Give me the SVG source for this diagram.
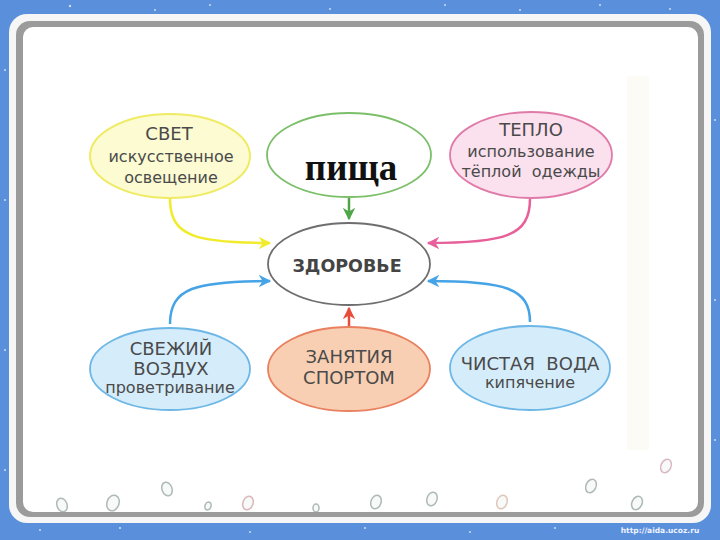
<svg xmlns="http://www.w3.org/2000/svg" width="720" height="540" viewBox="0 0 720 540">
<defs>
<style>
.t{font-family:"DejaVu Sans","Liberation Sans",sans-serif;fill:#4a4a4a;text-anchor:middle}
.big{font-size:18px}
.sm{font-size:16px}
.con{fill:none;stroke-width:2.5}
.drop{fill:#f6f9f8;stroke:#9aa9a6;stroke-width:1.5;opacity:0.8}
.spark{fill:#ffffff;opacity:0.7}
</style>
<marker id="aY" viewBox="0 0 10 10" refX="9" refY="5" markerWidth="5" markerHeight="5" orient="auto" markerUnits="strokeWidth"><path d="M0,0 L10,5 L0,10 L3,5 Z" fill="#f0ec2c"/></marker>
<marker id="aG" viewBox="0 0 10 10" refX="9" refY="5" markerWidth="5" markerHeight="5" orient="auto" markerUnits="strokeWidth"><path d="M0,0 L10,5 L0,10 L3,5 Z" fill="#4fa647"/></marker>
<marker id="aP" viewBox="0 0 10 10" refX="9" refY="5" markerWidth="5" markerHeight="5" orient="auto" markerUnits="strokeWidth"><path d="M0,0 L10,5 L0,10 L3,5 Z" fill="#e8609a"/></marker>
<marker id="aB" viewBox="0 0 10 10" refX="9" refY="5" markerWidth="5" markerHeight="5" orient="auto" markerUnits="strokeWidth"><path d="M0,0 L10,5 L0,10 L3,5 Z" fill="#45a3e6"/></marker>
<marker id="aR" viewBox="0 0 10 10" refX="9" refY="5" markerWidth="5" markerHeight="5" orient="auto" markerUnits="strokeWidth"><path d="M0,0 L10,5 L0,10 L3,5 Z" fill="#e84c3a"/></marker>
</defs>

<g id="frame">
<rect x="0" y="0" width="720" height="540" fill="#5a8fdc"/>
<g class="spark">
<circle cx="70" cy="6" r="1.2"/><circle cx="155" cy="10" r="1"/><circle cx="210" cy="5" r="1"/><circle cx="330" cy="9" r="1"/><circle cx="445" cy="5" r="1"/><circle cx="520" cy="10" r="1"/><circle cx="600" cy="5" r="1"/><circle cx="670" cy="9" r="1"/>
<circle cx="5" cy="70" r="1"/><circle cx="5" cy="200" r="1"/><circle cx="5" cy="350" r="1"/><circle cx="5" cy="470" r="1"/>
<circle cx="715" cy="120" r="1"/><circle cx="715" cy="300" r="1"/><circle cx="715" cy="440" r="1"/>
<circle cx="40" cy="530" r="1"/><circle cx="120" cy="528" r="1"/><circle cx="250" cy="532" r="1"/><circle cx="365" cy="528" r="1"/><circle cx="470" cy="532" r="1"/><circle cx="555" cy="528" r="1"/>
</g>
<rect x="9" y="14" width="702" height="509" rx="18" fill="#f6f6f6"/>
<rect x="16" y="21" width="688" height="496" rx="14" fill="#9b9b9b"/>
<rect x="23" y="27" width="675" height="485" rx="10" fill="#ffffff"/>
<rect x="627" y="76" width="22" height="374" fill="#fcfaf2" opacity="0.7"/>
<text x="660" y="533" font-family="DejaVu Sans, sans-serif" font-size="7.5" font-weight="bold" fill="#eef3ff" text-anchor="middle">http://aida.ucoz.ru</text>
</g>

<g id="drops">
<ellipse class="drop" cx="62" cy="505" rx="5" ry="7" transform="rotate(-20 62 505)"/>
<ellipse class="drop" cx="113" cy="503" rx="6" ry="8" transform="rotate(20 113 503)"/>
<ellipse class="drop" cx="167" cy="489" rx="5" ry="7" transform="rotate(-20 167 489)"/>
<ellipse class="drop" cx="208" cy="506" rx="3" ry="4" transform="rotate(20 208 506)"/>
<ellipse class="drop" cx="248" cy="503" rx="5" ry="7" transform="rotate(20 248 503)" style="stroke:#d2a6aa"/>
<ellipse class="drop" cx="316" cy="508" rx="3" ry="4"/>
<ellipse class="drop" cx="376" cy="502" rx="5" ry="7" transform="rotate(20 376 502)"/>
<ellipse class="drop" cx="432" cy="499" rx="5" ry="7" transform="rotate(20 432 499)"/>
<ellipse class="drop" cx="502" cy="502" rx="5" ry="7" transform="rotate(20 502 502)" style="stroke:#d9b9a6"/>
<ellipse class="drop" cx="591" cy="486" rx="5" ry="7" transform="rotate(25 591 486)"/>
<ellipse class="drop" cx="637" cy="503" rx="5" ry="7" transform="rotate(25 637 503)"/>
<ellipse class="drop" cx="666" cy="466" rx="5" ry="7" transform="rotate(25 666 466)" style="stroke:#d2a6b6"/>
</g>

<g id="connectors">
<path class="con" d="M170,199 C170,236 195,243 270,243" stroke="#f0ec2c" marker-end="url(#aY)"/>
<path class="con" d="M349,198 L349,219" stroke="#4fa647" marker-end="url(#aG)"/>
<path class="con" d="M530,199 C530,236 505,243 428,243" stroke="#e8609a" marker-end="url(#aP)"/>
<path class="con" d="M170,324 C170,288 195,281 270,281" stroke="#45a3e6" marker-end="url(#aB)"/>
<path class="con" d="M530,322 C530,288 505,281 428,281" stroke="#45a3e6" marker-end="url(#aB)"/>
<path class="con" d="M349,327 L349,308" stroke="#e84c3a" marker-end="url(#aR)"/>
</g>

<g id="svet">
<ellipse cx="170" cy="156" rx="80" ry="42" fill="#fcfbd2" stroke="#efeb64" stroke-width="2"/>
<text class="t big" x="169" y="140">СВЕТ</text>
<text class="t sm" x="171" y="162">искусственное</text>
<text class="t sm" x="171" y="183">освещение</text>
</g>

<g id="pishcha">
<ellipse cx="349" cy="155" rx="82" ry="42" fill="#ffffff" stroke="#7cbf6a" stroke-width="1.8"/>
<text x="351" y="180" font-family="Liberation Serif, serif" font-weight="bold" font-size="37" fill="#111" text-anchor="middle">пища</text>
</g>

<g id="teplo">
<ellipse cx="531" cy="155" rx="81" ry="43" fill="#fbe0ee" stroke="#e07aa8" stroke-width="1.8"/>
<text class="t big" x="531" y="136">ТЕПЛО</text>
<text class="t sm" x="531" y="157">использование</text>
<text class="t sm" x="531" y="177" xml:space="preserve">тёплой  одежды</text>
</g>

<g id="zdorovye">
<ellipse cx="349" cy="264" rx="81" ry="41" fill="#ffffff" stroke="#6e6e6e" stroke-width="1.8"/>
<text class="t" x="347" y="272" font-size="17.5" font-weight="bold" style="fill:#444">ЗДОРОВЬЕ</text>
</g>

<g id="vozdukh">
<ellipse cx="170" cy="369" rx="80" ry="41" fill="#d5ecfa" stroke="#6db7e6" stroke-width="1.8"/>
<text class="t big" x="171" y="355">СВЕЖИЙ</text>
<text class="t big" x="171" y="375">ВОЗДУХ</text>
<text class="t sm" x="170" y="393">проветривание</text>
</g>

<g id="sport">
<ellipse cx="349" cy="369" rx="81" ry="42" fill="#f8cfb2" stroke="#e9805f" stroke-width="1.8"/>
<text class="t big" x="349" y="363">ЗАНЯТИЯ</text>
<text class="t big" x="349" y="384">СПОРТОМ</text>
</g>

<g id="voda">
<ellipse cx="530" cy="368" rx="80" ry="42" fill="#d5ecfa" stroke="#6db7e6" stroke-width="1.8"/>
<text class="t big" x="530" y="370" xml:space="preserve">ЧИСТАЯ  ВОДА</text>
<text class="t sm" x="530" y="388">кипячение</text>
</g>
</svg>
